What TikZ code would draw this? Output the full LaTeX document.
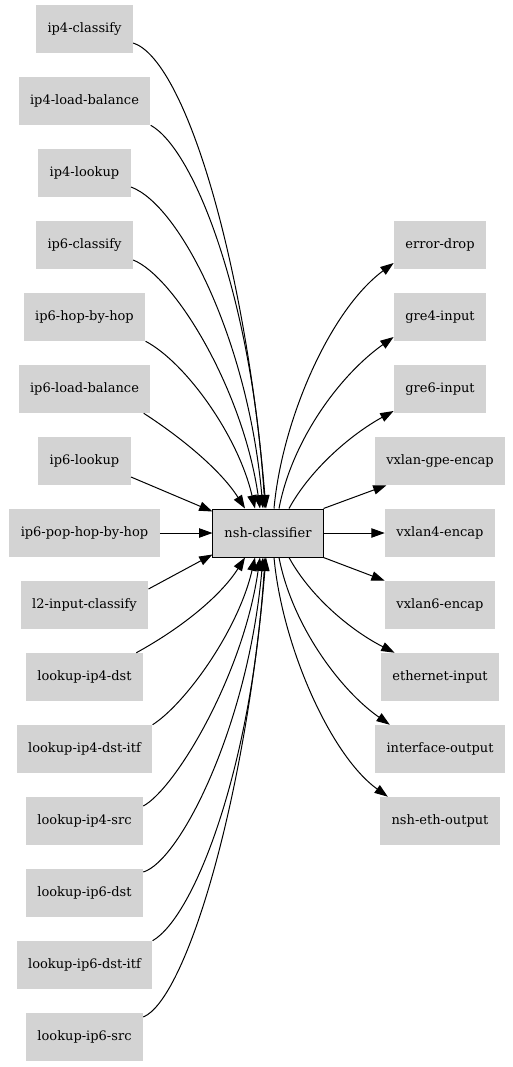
\documentclass[tikz,border=0pt]{standalone}
\usepackage{fontspec}
\setmainfont{DejaVu Serif}
\usetikzlibrary{arrows.meta,calc}
\definecolor{boxgray}{HTML}{D3D3D3}
\begin{document}
\begin{tikzpicture}[x=0.75pt,y=-0.75pt,
  gnode/.style={fill=boxgray, draw=none, minimum height=36pt, inner xsep=8.6pt, inner ysep=0pt, font=\fontsize{9.75pt}{12pt}\selectfont},
  hub/.style={gnode, draw=black, line width=0.75pt},
  edge/.style={line width=0.75pt, -{Triangle[length=10pt,width=7pt]}}]
\useasboundingbox (0,0) rectangle (513,1067);
% left column
\node[gnode] (ip4c)  at (84.5,29)   {ip4-classify};
\node[gnode] (ip4lb) at (84.5,101)  {ip4-load-balance};
\node[gnode] (ip4l)  at (84.5,173)  {ip4-lookup};
\node[gnode] (ip6c)  at (84.5,245)  {ip6-classify};
\node[gnode] (ip6h)  at (84.5,317)  {ip6-hop-by-hop};
\node[gnode] (ip6lb) at (84.5,389)  {ip6-load-balance};
\node[gnode] (ip6l)  at (84.5,461)  {ip6-lookup};
\node[gnode] (ip6p)  at (84.5,533)  {ip6-pop-hop-by-hop};
\node[gnode] (l2ic)  at (84.5,605)  {l2-input-classify};
\node[gnode] (l4d)   at (84.5,677)  {lookup-ip4-dst};
\node[gnode] (l4di)  at (84.5,749)  {lookup-ip4-dst-itf};
\node[gnode] (l4s)   at (84.5,821)  {lookup-ip4-src};
\node[gnode] (l6d)   at (84.5,893)  {lookup-ip6-dst};
\node[gnode] (l6di)  at (84.5,965)  {lookup-ip6-dst-itf};
\node[gnode] (l6s)   at (84.5,1037) {lookup-ip6-src};
% hub
\node[hub] (nsh) at (268,533) {nsh-classifier};
% right column
\node[gnode] (ed)  at (440,245) {error-drop};
\node[gnode] (g4)  at (440,317) {gre4-input};
\node[gnode] (g6)  at (440,389) {gre6-input};
\node[gnode] (vg)  at (440,461) {vxlan-gpe-encap};
\node[gnode] (v4)  at (440,533) {vxlan4-encap};
\node[gnode] (v6)  at (440,605) {vxlan6-encap};
\node[gnode] (ei)  at (440,677) {ethernet-input};
\node[gnode] (io)  at (440,749) {interface-output};
\node[gnode] (neo) at (440,821) {nsh-eth-output};
% incoming edges, top
\draw[edge] ($(ip4c.east)+(0,14)$) .. controls (185,60) and (245,260) .. ($(nsh.north)+(-2,0)$);
\draw[edge] (ip4lb.south east) .. controls (195,150) and (252,300) .. ($(nsh.north)+(-3,0)$);
\draw[edge] ($(ip4l.east)+(0,14)$) .. controls (180,205) and (248,340) .. ($(nsh.north)+(-5,0)$);
\draw[edge] ($(ip6c.east)+(0,15)$) .. controls (175,277) and (243,390) .. ($(nsh.north)+(-8,0)$);
\draw[edge] (ip6h.south east) .. controls (185,362) and (238,435) .. ($(nsh.north)+(-13,0)$);
\draw[edge] ($(ip6lb.south east)+(-7,0)$) .. controls (185,440) and (222,472) .. ($(nsh.north)+(-23,0)$);
\draw[edge] ($(ip6l.east)+(0,16)$) -- ($(nsh.north west)+(0,3)$);
\draw[edge] (ip6p) -- (nsh);
\draw[edge] ($(l2ic.east)+(0,-16)$) -- ($(nsh.south west)+(0,-3)$);
% incoming edges, bottom
\draw[edge] ($(l4d.north east)+(-7,0)$) .. controls (185,626) and (222,594) .. ($(nsh.south)+(-23,0)$);
\draw[edge] (l4di.north east) .. controls (185,704) and (238,631) .. ($(nsh.south)+(-13,0)$);
\draw[edge] ($(l4s.east)+(0,-15)$) .. controls (175,789) and (243,676) .. ($(nsh.south)+(-8,0)$);
\draw[edge] ($(l6d.east)+(0,-21)$) .. controls (180,861) and (248,726) .. ($(nsh.south)+(-5,0)$);
\draw[edge] (l6di.north east) .. controls (195,916) and (252,766) .. ($(nsh.south)+(-3,0)$);
\draw[edge] ($(l6s.east)+(0,-20)$) .. controls (185,1000) and (245,806) .. ($(nsh.south)+(-2,0)$);
% outgoing edges
\draw[edge] ($(nsh.north)+(6,0)$) .. controls (282,420) and (330,310) .. ($(ed.west)+(0,18)$);
\draw[edge] ($(nsh.north)+(11,0)$) .. controls (292,440) and (340,375) .. ($(g4.west)+(0,20)$);
\draw[edge] ($(nsh.north)+(21,0)$) .. controls (310,470) and (350,435) .. ($(g6.west)+(0,22)$);
\draw[edge] (nsh.north east) -- ($(vg.south west)+(12,0)$);
\draw[edge] (nsh) -- (v4);
\draw[edge] (nsh.south east) -- (v6.north west);
\draw[edge] ($(nsh.south)+(21,0)$) .. controls (310,596) and (350,630) .. ($(ei.north west)+(14,0)$);
\draw[edge] ($(nsh.south)+(11,0)$) .. controls (292,625) and (340,690) .. ($(io.north west)+(15,0)$);
\draw[edge] ($(nsh.south)+(6,0)$) .. controls (282,645) and (330,755) .. ($(neo.north west)+(8,0)$);
\end{tikzpicture}
\end{document}
